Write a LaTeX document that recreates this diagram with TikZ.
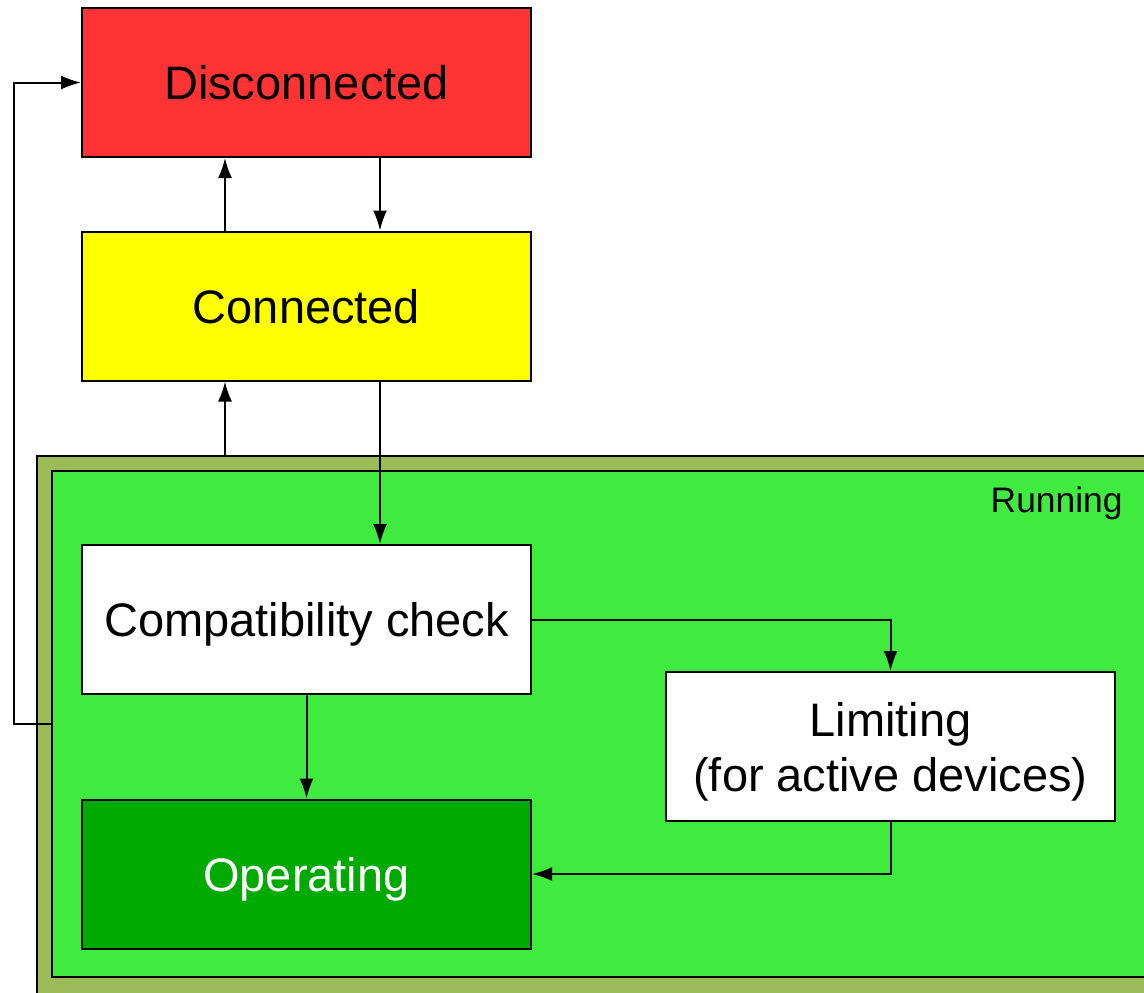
\documentclass[tikz,border=0pt]{standalone}
\usepackage{fontspec}
\setmainfont{Liberation Sans}
\usepackage{tikz}
\usetikzlibrary{
  calc,
  positioning,
  arrows.meta
}
\tikzset{>={Latex[length=10pt,width=7pt]}}
\definecolor{discred}{RGB}{255,51,51}
\definecolor{connyellow}{RGB}{255,255,0}
\definecolor{runolive}{RGB}{155,187,89}
\definecolor{rungreen}{RGB}{64,235,64}
\definecolor{opgreen}{RGB}{0,170,0}
\tikzset{
  state/.style={draw,line width=1pt,minimum width=224.5pt,minimum height=74.5pt,
    align=center,text depth=0pt,font=\fontsize{23.5}{27.5}\selectfont},
  link/.style={->,line width=1pt}
}

\begin{document}
\begin{tikzpicture}[x=0.5pt,y=-0.5pt]
			\useasboundingbox (0,0) rectangle (1144,992);
			\clip (0,0) rectangle (1144,992);

			\node[draw,line width=1pt,fill=runolive,inner sep=0,minimum width=566.5pt,minimum height=277pt] (runframe) at (603.5,733) {};
			\node[draw,line width=1pt,fill=rungreen,inner sep=0,minimum width=559pt,minimum height=253.25pt] (running) at (611,723.75) {};
			\node[anchor=base east,inner sep=0,font=\fontsize{17.7}{20}\selectfont] (runlabel) at (1123,512) {Running};

			\node[state,fill=discred] (disc) at (306.5,82.5) {Disconnected};
			\node[state,fill=connyellow] (conn) at (306.5,306) {Connected};
			\node[state,fill=white] (compat) at (306.5,619.5) {Compatibility check};
			\node[state,fill=opgreen,text=white] (oper) at (306.5,874) {Operating};
			\node[state,fill=white] (limit) at (890.5,746.5) {Limiting\\(for active devices)};

			\coordinate (upx) at ($(conn.south)+(-81.5,0)$);
			\coordinate (downx) at ($(conn.south)+(73.5,0)$);

			\draw[link] (upx |- conn.north) -- (upx |- disc.south);
			\draw[link] (downx |- disc.south) -- (downx |- conn.north);
			\draw[link] (upx |- runframe.north) -- (upx);
			\draw[link] (downx) -- (downx |- compat.north);
			\draw[link] (compat) -- (oper);
			\draw[link] (compat.east) -| (limit.north);
			\draw[link] (limit.south) |- (oper.east);
			\draw[link] (running.west) -- ++(-37,0) |- (disc.west);
		\end{tikzpicture}
\end{document}
